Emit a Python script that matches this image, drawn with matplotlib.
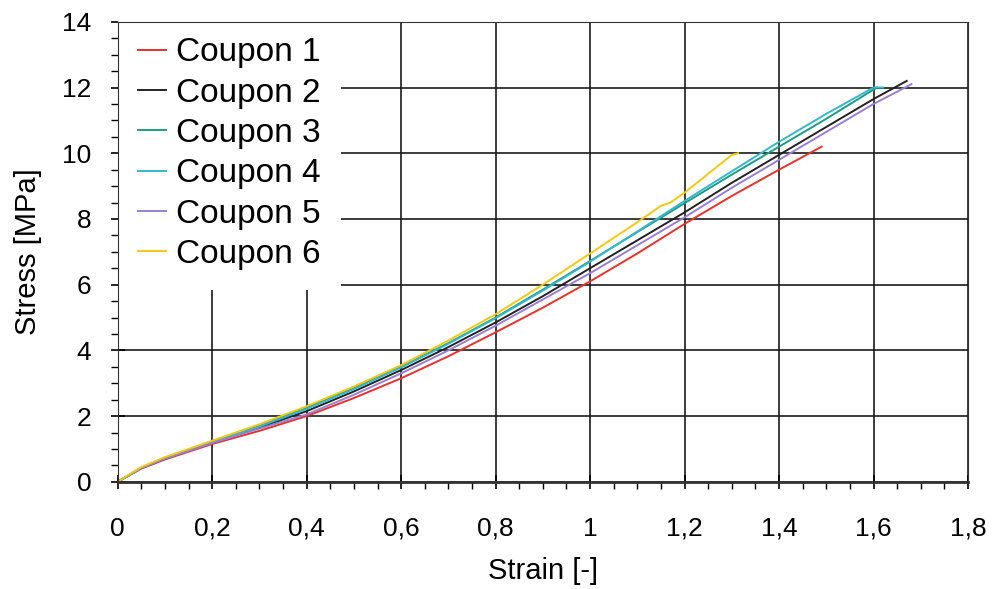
import numpy as np
import matplotlib.pyplot as plt
from matplotlib.ticker import MultipleLocator, FuncFormatter

plt.rcParams['font.family'] = ['Liberation Sans', 'DejaVu Sans']

# %% data (strain [-], stress [MPa])
strain1 = [0, 0.05, 0.1, 0.2, 0.3, 0.4, 0.5, 0.6, 0.7, 0.8, 0.9, 1.0, 1.1, 1.2, 1.3, 1.4, 1.49]
stress1 = [0, 0.4, 0.68, 1.15, 1.55, 2.0, 2.55, 3.15, 3.82, 4.55, 5.3, 6.1, 6.95, 7.85, 8.7, 9.5, 10.2]

strain2 = [0, 0.05, 0.1, 0.2, 0.3, 0.4, 0.5, 0.6, 0.7, 0.8, 0.9, 1.0, 1.1, 1.2, 1.3, 1.4, 1.5, 1.6, 1.67]
stress2 = [0, 0.42, 0.7, 1.2, 1.65, 2.15, 2.75, 3.4, 4.1, 4.85, 5.65, 6.5, 7.35, 8.2, 9.1, 9.95, 10.8, 11.65, 12.2]

strain3 = [0, 0.05, 0.1, 0.2, 0.3, 0.4, 0.5, 0.6, 0.7, 0.8, 0.9, 1.0, 1.1, 1.2, 1.3, 1.4, 1.5, 1.607]
stress3 = [0, 0.42, 0.72, 1.2, 1.7, 2.25, 2.85, 3.5, 4.22, 5.0, 5.85, 6.72, 7.6, 8.48, 9.35, 10.2, 11.05, 12.0]

strain4 = [0, 0.05, 0.1, 0.2, 0.3, 0.4, 0.5, 0.6, 0.7, 0.8, 0.9, 1.0, 1.1, 1.2, 1.3, 1.4, 1.5, 1.6, 1.62]
stress4 = [0, 0.42, 0.72, 1.2, 1.68, 2.22, 2.82, 3.48, 4.2, 4.98, 5.82, 6.7, 7.62, 8.55, 9.45, 10.35, 11.2, 12.0, 12.0]

strain5 = [0, 0.05, 0.1, 0.2, 0.3, 0.4, 0.5, 0.6, 0.7, 0.8, 0.9, 1.0, 1.1, 1.2, 1.3, 1.4, 1.5, 1.6, 1.68]
stress5 = [0, 0.42, 0.7, 1.18, 1.62, 2.05, 2.65, 3.3, 4.0, 4.75, 5.55, 6.35, 7.2, 8.05, 8.95, 9.8, 10.65, 11.5, 12.1]

strain6 = [0, 0.05, 0.1, 0.2, 0.3, 0.4, 0.5, 0.6, 0.7, 0.8, 0.9, 1.0, 1.1, 1.15, 1.17, 1.2, 1.3, 1.313]
stress6 = [0, 0.45, 0.75, 1.25, 1.75, 2.3, 2.9, 3.55, 4.3, 5.1, 6.0, 6.95, 7.9, 8.4, 8.5, 8.8, 9.95, 10.0]

labels = ['Coupon 1', 'Coupon 2', 'Coupon 3', 'Coupon 4', 'Coupon 5', 'Coupon 6']
colors = ['#e2332d', '#222222', '#1f9c80', '#35b7cc', '#9b7fcf', '#f2c811']

curves = [(strain1, stress1), (strain2, stress2), (strain3, stress3),
          (strain4, stress4), (strain5, stress5), (strain6, stress6)]

# %% plot
fig = plt.figure(figsize=(9.97, 5.89), dpi=100)
ax = fig.add_axes([0.118, 0.182, 0.853, 0.781])

for (x, y), lab, c in zip(curves, labels, colors):
    ax.plot(x, y, color=c, lw=1.4, label=lab)

ax.set_xlim(0, 1.8)
ax.set_ylim(0, 14)
ax.xaxis.set_major_locator(MultipleLocator(0.2))
ax.xaxis.set_minor_locator(MultipleLocator(0.05))
ax.yaxis.set_major_locator(MultipleLocator(2))
ax.yaxis.set_minor_locator(MultipleLocator(0.5))

def comma(v, pos):
    s = ('%.1f' % v).rstrip('0').rstrip('.')
    return s.replace('.', ',')

ax.xaxis.set_major_formatter(FuncFormatter(comma))
ax.grid(True, which='major', color='#1a1a1a', lw=1.2)
ax.tick_params(which='major', direction='inout', length=10, width=1.2, labelsize=19)
ax.tick_params(axis='x', which='major', pad=20)
ax.tick_params(axis='y', which='major', pad=14)
ax.tick_params(which='minor', direction='out', length=5, width=1)
for s in ax.spines.values():
    s.set_color('#333333')
ax.spines['bottom'].set_linewidth(2)

ax.set_xlabel('Strain [-]', fontsize=21, labelpad=12)
ax.set_ylabel('Stress [MPa]', fontsize=21, labelpad=14)

leg = ax.legend(loc='upper left', bbox_to_anchor=(0.0, 1.01), fontsize=24,
                frameon=True, fancybox=False,
                handlelength=0.85, handletextpad=0.3, labelspacing=0.28,
                borderaxespad=0.0, borderpad=0.6)
leg.get_frame().set_facecolor('white')
leg.get_frame().set_edgecolor('none')
leg.get_frame().set_alpha(1)
leg.set_zorder(2.2)  # above grid and curves, below the frame spines

plt.savefig('out.png', dpi=100)
